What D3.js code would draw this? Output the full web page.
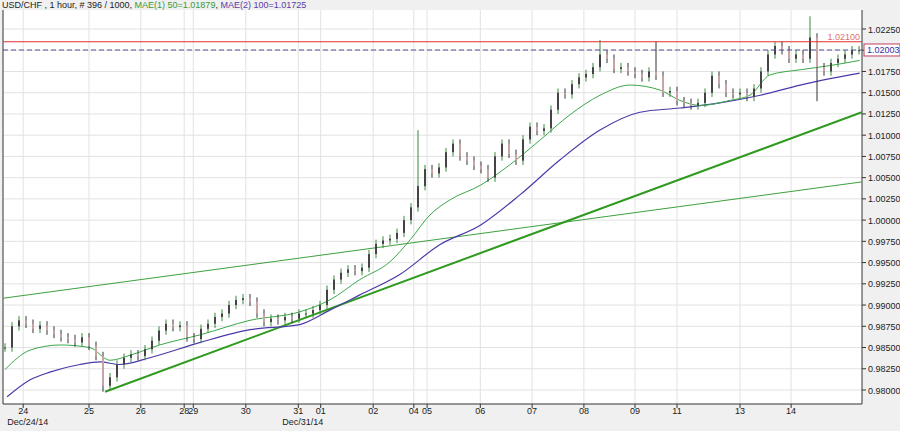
<!DOCTYPE html><html><head><meta charset="utf-8"><script src="https://cdn.jsdelivr.net/npm/d3@7"></script>
<style>body{margin:0;background:#f0f0f0}svg{font-family:Arial,"Liberation Sans",sans-serif}</style></head><body><svg id="c" width="900" height="431"></svg><script>
const closes=[0.9850,0.9875,0.9882,0.9878,0.9872,0.9876,0.9870,0.9866,0.9862,0.9860,0.9856,0.9862,0.9852,0.9840,0.9805,0.9815,0.9830,0.9838,0.9842,0.9840,0.9848,0.9858,0.9870,0.9878,0.9874,0.9876,0.9862,0.9860,0.9872,0.9878,0.9886,0.9890,0.9900,0.9906,0.9908,0.9904,0.9890,0.9880,0.9884,0.9882,0.9886,0.9884,0.9890,0.9890,0.9894,0.9900,0.9918,0.9930,0.9938,0.9942,0.9940,0.9944,0.9960,0.9972,0.9976,0.9978,0.9985,1.0000,1.0015,1.0040,1.0060,1.0055,1.0062,1.0080,1.0090,1.0075,1.0070,1.0064,1.0060,1.0050,1.0075,1.0090,1.0078,1.0070,1.0095,1.0110,1.0105,1.0108,1.0130,1.0150,1.0148,1.0160,1.0168,1.0172,1.0180,1.0195,1.0190,1.0178,1.0180,1.0175,1.0172,1.0168,1.0175,1.0170,1.0150,1.0152,1.0140,1.0138,1.0135,1.0138,1.0150,1.0170,1.0160,1.0150,1.0148,1.0150,1.0145,1.0155,1.0175,1.0195,1.0205,1.0200,1.0190,1.0195,1.0190,1.0215,1.0180,1.0175,1.0185,1.0190,1.0195,1.0200,1.0200];
const spikeHigh={59:1.0106,85:1.0212,93:1.0210,115:1.0240};
const spikeLow={14:0.9798,116:1.0140};
const ma50=[[0,0.9824],[3.6,0.9847],[7.9,0.9853],[12.1,0.9850],[15,0.9835],[17.9,0.9841],[22.1,0.9853],[27.9,0.9865],[35,0.9882],[42.1,0.9892],[46.4,0.9906],[50.7,0.9930],[55,0.9951],[57.9,0.9977],[60.7,1.0006],[63.6,1.0024],[67.9,1.0041],[72.1,1.0065],[76.4,1.0094],[80.7,1.0124],[85,1.0147],[89.3,1.0159],[93.6,1.0153],[96.4,1.0141],[99.3,1.0135],[103.6,1.0141],[106.4,1.0147],[109.3,1.0171],[113.6,1.0177],[117.9,1.0182],[122.1,1.0188]];
const ma100=[[0.3,0.9792],[3.6,0.9812],[6.4,0.9821],[10.7,0.9830],[13.6,0.9833],[16.4,0.9830],[20.7,0.9838],[27.9,0.9856],[35,0.9871],[42.1,0.9877],[46.4,0.9894],[50.7,0.9912],[56.4,0.9936],[62.1,0.9971],[67.9,0.9994],[73.6,1.0030],[79.3,1.0071],[85,1.0106],[90.7,1.0127],[96.4,1.0132],[102.1,1.0138],[107.9,1.0147],[113.6,1.0159],[122.1,1.0173]];
const trendThick=[[14.3,0.9798],[122.4,1.0127]];
const trendThin=[[-0.3,0.9908],[122.4,1.0045]];
const yTicks=d3.range(0,18).map(i=>+(0.98+i*0.0025).toFixed(4));
const xTicks=[[2.6,"24"],[12,"25"],[19.4,"26"],[25.6,"28"],[26.9,"29"],[34.4,"30"],[41.9,"31"],[45.1,"01"],[52.6,"02"],[58.4,"04"],[60.3,"05"],[67.9,"06"],[75.3,"07"],[82.7,"08"],[90,"09"],[96,"11"],[105,"13"],[112.3,"14"]];
const monthLabels=[[2.6,"Dec/24/14"],[41.9,"Dec/31/14"]];
const resist=1.021, last=1.02003;

const svg=d3.select("#c");
const L=3,R=862,T=10,B=404;
const x=d3.scaleLinear().domain([0,122]).range([5,859]);
const y=d3.scaleLinear().domain([0.98,1.0225]).range([390,29]);
svg.append("rect").attr("x",L).attr("y",T).attr("width",R-L).attr("height",B-T).attr("fill","#fff");
const g=svg.append("g");
yTicks.forEach(t=>g.append("line").attr("x1",L).attr("x2",R).attr("y1",y(t)).attr("y2",y(t)).attr("stroke","#e2e2e2"));
xTicks.forEach(t=>g.append("line").attr("x1",x(t[0])).attr("x2",x(t[0])).attr("y1",T).attr("y2",B).attr("stroke","#e2e2e2"));
svg.append("line").attr("x1",L).attr("x2",R).attr("y1",B).attr("y2",B).attr("stroke","#333");
svg.append("line").attr("x1",R).attr("x2",R).attr("y1",T).attr("y2",B).attr("stroke","#333");
svg.append("line").attr("x1",L).attr("x2",L).attr("y1",T).attr("y2",B).attr("stroke","#333");
yTicks.forEach(t=>{svg.append("line").attr("x1",R).attr("x2",R+4).attr("y1",y(t)).attr("y2",y(t)).attr("stroke","#333");
 if(t!==1.02) svg.append("text").attr("x",R+6).attr("y",y(t)+3.5).attr("font-size",9).attr("fill","#222").text(t.toFixed(5));});
xTicks.forEach(t=>{svg.append("line").attr("x1",x(t[0])).attr("x2",x(t[0])).attr("y1",B).attr("y2",B+4).attr("stroke","#333");
 svg.append("text").attr("x",x(t[0])).attr("y",414).attr("font-size",9).attr("text-anchor","middle").attr("fill","#222").text(t[1]);});
monthLabels.forEach(t=>svg.append("text").attr("x",x(t[0])-16).attr("y",425).attr("font-size",9).attr("fill","#222").text(t[1]));
const line=d3.line().x(d=>x(d[0])).y(d=>y(d[1]));
svg.append("clipPath").attr("id","cp").append("rect").attr("x",L).attr("y",T).attr("width",R-L).attr("height",B-T);
const p=svg.append("g").attr("clip-path","url(#cp)");
p.append("path").attr("d",line(trendThin)).attr("stroke","#3fa03f").attr("stroke-width",1).attr("fill","none");
p.append("path").attr("d",line(trendThick)).attr("stroke","#2e9a1e").attr("stroke-width",2).attr("fill","none");
p.append("path").attr("d",line.curve(d3.curveMonotoneX)(ma100)).attr("stroke","#4a3aa8").attr("stroke-width",1.2).attr("fill","none");
p.append("path").attr("d",line.curve(d3.curveMonotoneX)(ma50)).attr("stroke","#3aa84a").attr("stroke-width",1).attr("fill","none");
closes.forEach((c,i)=>{const o=i?closes[i-1]:c;const hi=spikeHigh[i]||Math.max(o,c)+0.0005;const lo=spikeLow[i]||Math.min(o,c)-0.0005;
 const up=c>=o,xx=x(i);
 p.append("line").attr("x1",xx).attr("x2",xx).attr("y1",y(hi)).attr("y2",y(lo)).attr("stroke",up?"#3a8a3a":"#333").attr("stroke-width",1);
 p.append("rect").attr("x",xx-1).attr("width",2).attr("y",y(Math.max(o,c))).attr("height",Math.max(1,Math.abs(y(o)-y(c)))).attr("fill",up?"#444":"#c9a4a4");});
svg.append("line").attr("x1",L).attr("x2",R).attr("y1",y(resist)).attr("y2",y(resist)).attr("stroke","#e03030").attr("stroke-width",1.2);
svg.append("line").attr("x1",L).attr("x2",R).attr("y1",y(last)).attr("y2",y(last)).attr("stroke","#5050a0").attr("stroke-dasharray","5,3").attr("stroke-width",1.2);
svg.append("text").attr("x",R-2).attr("y",y(resist)-2).attr("text-anchor","end").attr("font-size",9).attr("fill","#e07070").text(resist.toFixed(5));
svg.append("rect").attr("x",R+2).attr("y",y(last)-6).attr("width",36).attr("height",12).attr("fill","#fff").attr("stroke","#c04060");
svg.append("text").attr("x",R+5).attr("y",y(last)+3.5).attr("font-size",9).attr("fill","#3030a0").text(last.toFixed(5));
const h=svg.append("text").attr("x",2).attr("y",8).attr("font-size",9);
h.append("tspan").attr("fill","#222").text("USD/CHF , 1 hour, # 396 / 1000, ");
h.append("tspan").attr("fill","#3a9a3a").text("MAE(1) 50=1.01879");
h.append("tspan").attr("fill","#222").text(", ");
h.append("tspan").attr("fill","#5a3aa8").text("MAE(2) 100=1.01725");
</script></body></html>
